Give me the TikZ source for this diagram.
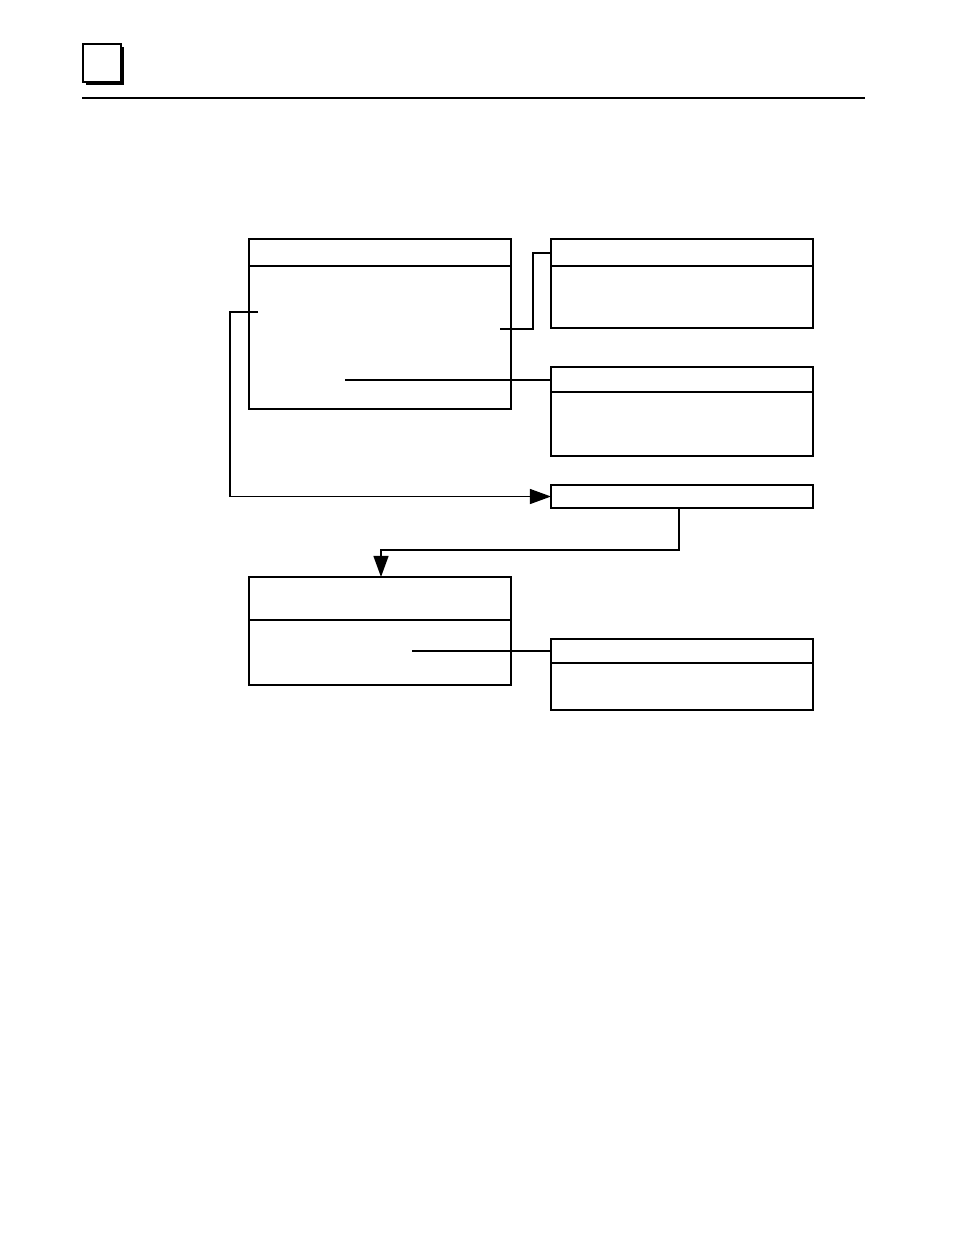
\documentclass[tikz,border=0pt]{standalone}
\usetikzlibrary{arrows.meta,calc}
\tikzset{
  boite/.style={draw, line width=0.9pt, inner sep=0pt, outer sep=0pt, anchor=north west},
  lien/.style={line width=0.9pt},
  fleche/.style={line width=0.9pt, -{Triangle[length=12pt,width=8.5pt]}}
}
\begin{document}
\begin{tikzpicture}[x=0.02cm, y=-0.02cm]
\useasboundingbox (0,0) rectangle (954,1235);
% En-tete : onglet avec ombre et filet
\fill (86,47) rectangle (124,85);
\node[boite, fill=white, minimum size=38*0.02cm] (onglet) at (83,44) {};
\draw[line width=0.6pt] (82,98) -- (865,98);
% Boites avec bandeau : nom/gauche/haut/largeur/hauteur/bandeau
\foreach \nom/\x/\y/\w/\h/\d in {A/249/239/262/170/27, B/551/239/262/89/27,
    C/551/367/262/89/25, E/249/577/262/108/43, F/551/639/262/71/24} {
  \node[boite, minimum width=\w*0.02cm, minimum height=\h*0.02cm] (\nom) at (\x,\y) {};
  \draw[lien] ($(\nom.north west)+(0,\d)$) -- ($(\nom.north east)+(0,\d)$);
}
% Boite simple
\node[boite, minimum width=262*0.02cm, minimum height=23*0.02cm] (D) at (551,485) {};
% Points de depart des liaisons
\coordinate (a1) at (500,329);
\coordinate (a2) at (345,380);
\coordinate (a3) at (258,312);
\coordinate (e1) at (412,651);
% Liaisons
\draw[lien] (a1) -- ++(33,0) |- (B.west |- 0,253);
\draw[lien] (a2) -- (C.west |- 0,380);
\draw[fleche] (a3) -- ++(-28,0) |- (D.west);
\draw[fleche] (D.south -| 679,0) -- ++(0,42) -| (E.north -| 381,0);
\draw[lien] (e1) -- (F.west |- 0,651);
\end{tikzpicture}
\end{document}
